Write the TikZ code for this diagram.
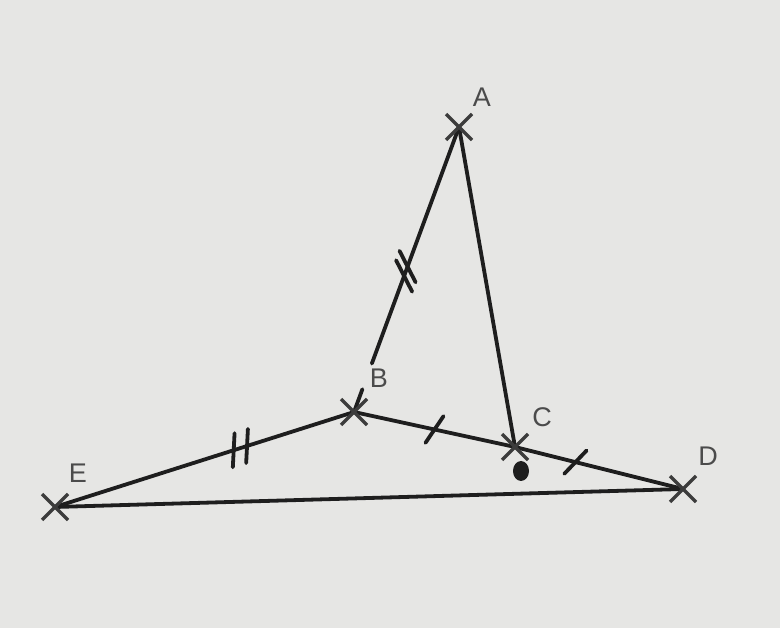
\documentclass[tikz,border=0pt]{standalone}
\usepackage{fontspec}
\setsansfont{Liberation Sans}
\usetikzlibrary{calc,decorations.markings}
\definecolor{paper}{RGB}{230,230,228}
\definecolor{ink}{RGB}{30,30,30}
\definecolor{crossink}{RGB}{60,60,60}
\definecolor{labelink}{RGB}{75,75,75}
\tikzset{
  seg/.style={draw=ink, line width=3.8pt, line cap=round},
  onetick/.style n args={3}{postaction={decorate, decoration={markings,
      mark=at position #1 with {\draw[ink, line width=3.8pt, line cap=round] (-#2,#3) -- (#2,-#3);}}}},
  twotick/.style n args={4}{postaction={decorate, decoration={markings,
      mark=at position #1 with {\draw[ink, line width=3.8pt, line cap=round]
        ($(-#2,#3)+(-#4,0)$) -- ($(#2,-#3)+(-#4,0)$)
        ($(-#2,#3)+(#4,0)$) -- ($(#2,-#3)+(#4,0)$);}}}},
  ptcross/.style={draw=crossink, line width=3.2pt},
  lbl/.style={text=labelink, font=\sffamily\fontsize{27}{27}\selectfont, inner sep=0pt}
}
\begin{document}
\begin{tikzpicture}[x=1pt, y=-1pt]
  \fill[paper] (0,0) rectangle (780,628);
  \useasboundingbox (0,0) rectangle (780,628);
  % points
  \coordinate (A) at (459,127);
  \coordinate (B) at (354,412);
  \coordinate (C) at (515,447);
  \coordinate (D) at (683,489);
  \coordinate (E) at (55,507);
  \coordinate (Ab1) at ($(A)!0.83!(B)$);
  \coordinate (Ab2) at ($(A)!0.92!(B)$);
  % segments
  \draw[seg, twotick={0.61}{12}{13}{5}] (A) -- (Ab1);
  \draw[seg] (Ab2) -- (B);
  \draw[seg] (A) -- (C);
  \draw[seg, twotick={0.62}{6}{16}{7}] (E) -- (B);
  \draw[seg, onetick={0.5}{6}{15}] (B) -- (C);
  \draw[seg, onetick={0.36}{8}{14}] (C) -- (D);
  \draw[seg] (E) -- (D);
  % crosses
  \foreach \p in {A,B,C,D,E} {
    \draw[ptcross] ($(\p)+(-13,-13)$) -- ($(\p)+(13,13)$);
    \draw[ptcross] ($(\p)+(-13,13)$) -- ($(\p)+(13,-13)$);
  }
  % blob below C
  \fill[ink] (521,471) ellipse[x radius=8, y radius=10];
  % labels
  \node[lbl] (lA) at (482,97) {A};
  \node[lbl] (lB) at (379,378) {B};
  \node[lbl] (lC) at (542,417) {C};
  \node[lbl] (lD) at (708,456) {D};
  \node[lbl] (lE) at (78,473) {E};
\end{tikzpicture}
\end{document}
